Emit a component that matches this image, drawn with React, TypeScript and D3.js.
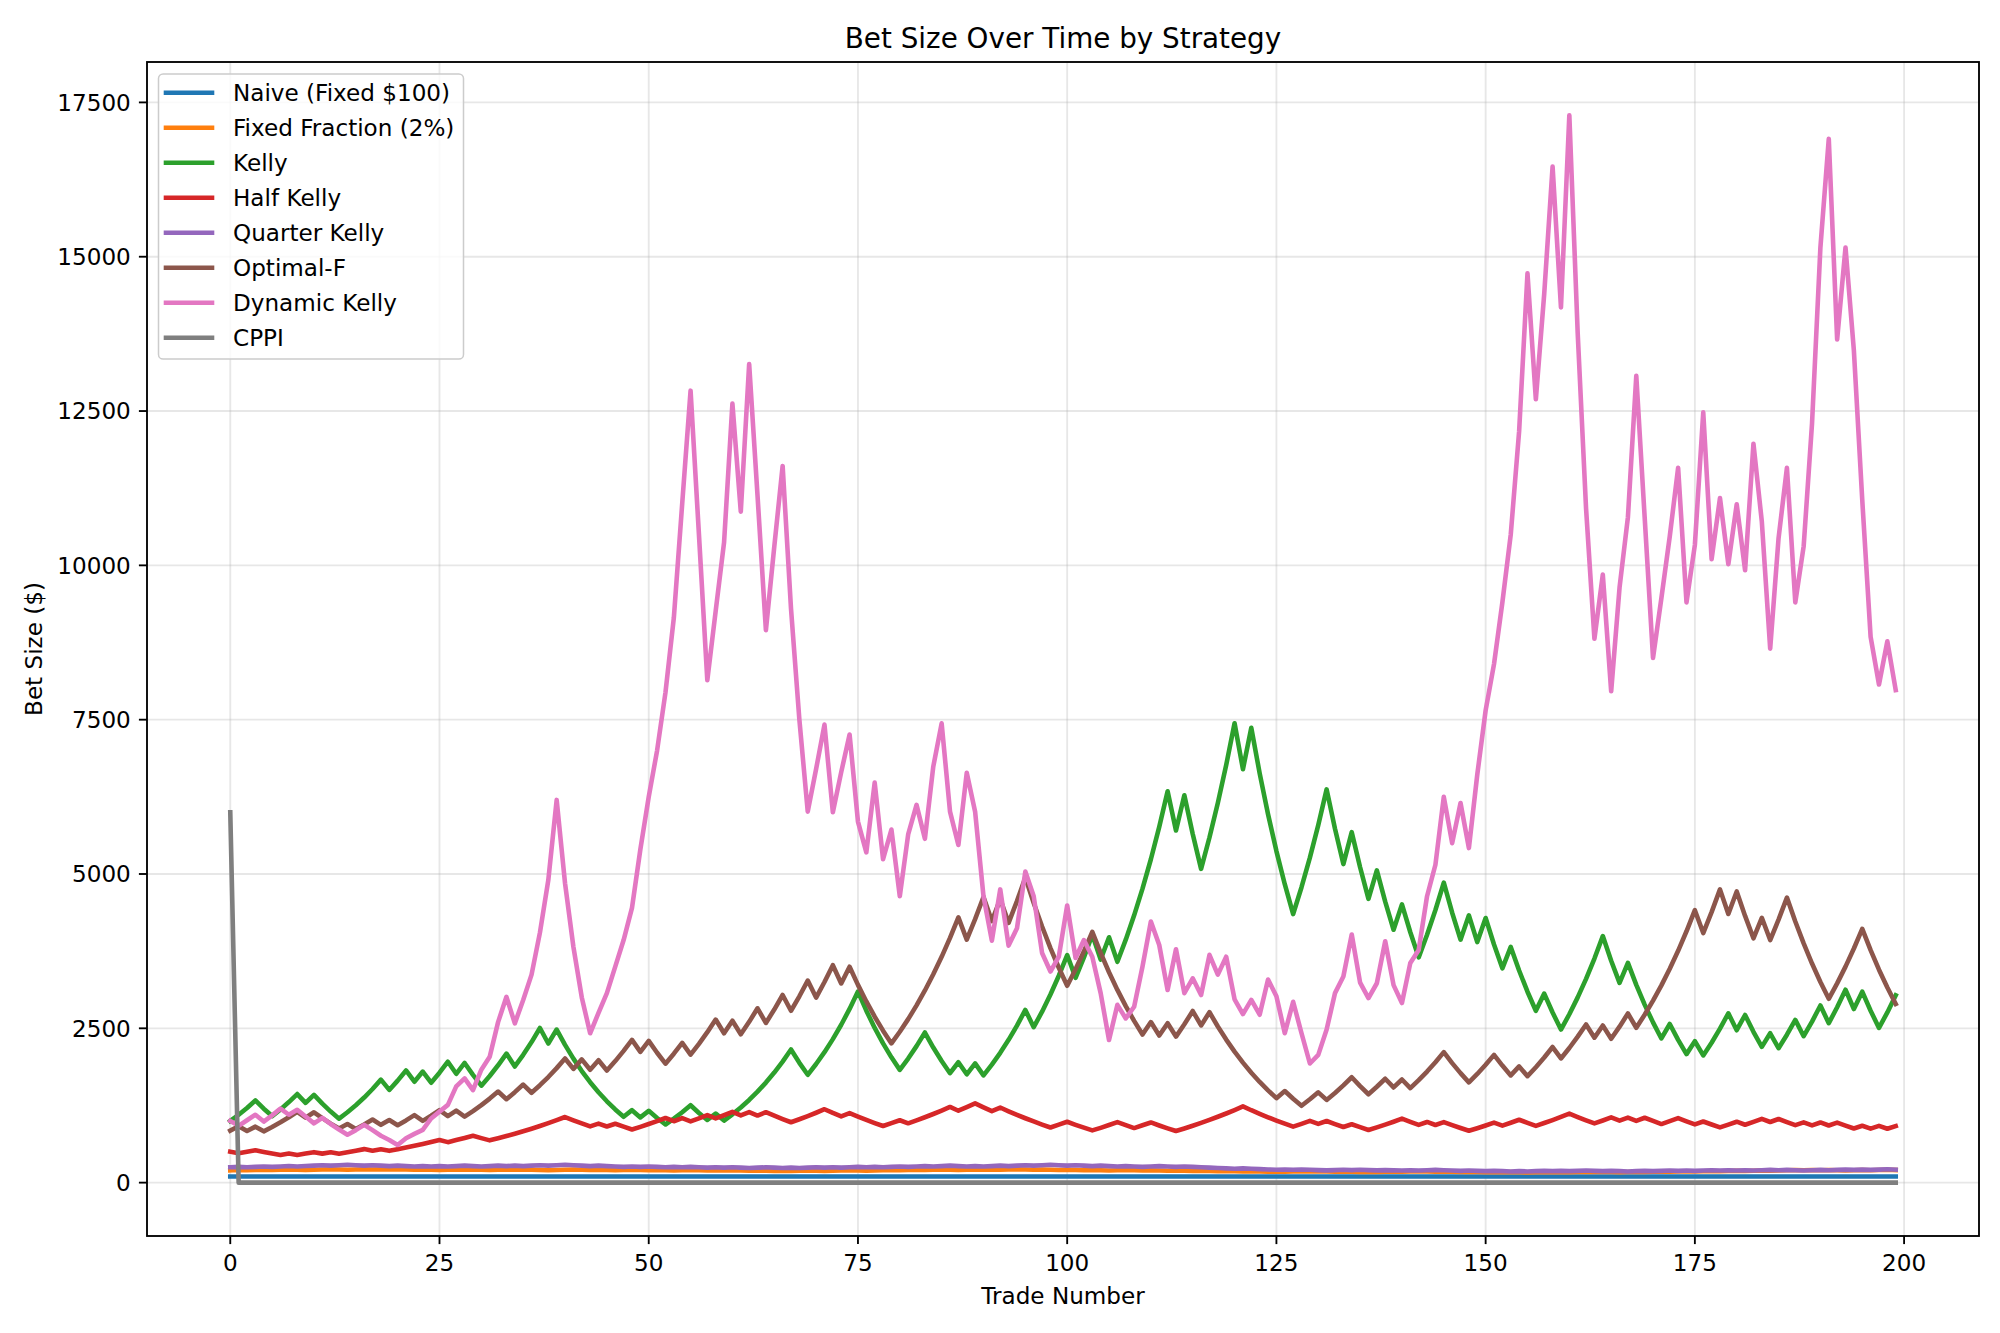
import React from "react";
import * as d3 from "d3";

const W = 2000;
const H = 1333;
const M = { left: 147, right: 21, top: 62, bottom: 97 };

const xTicks = [0, 25, 50, 75, 100, 125, 150, 175, 200];
const yTicks = [0, 2500, 5000, 7500, 10000, 12500, 15000, 17500];

const naive = [
100,100,100,100,100,100,100,100,100,100,100,100,100,100,100,100,100,100,100,100,
100,100,100,100,100,100,100,100,100,100,100,100,100,100,100,100,100,100,100,100,
100,100,100,100,100,100,100,100,100,100,100,100,100,100,100,100,100,100,100,100,
100,100,100,100,100,100,100,100,100,100,100,100,100,100,100,100,100,100,100,100,
100,100,100,100,100,100,100,100,100,100,100,100,100,100,100,100,100,100,100,100,
100,100,100,100,100,100,100,100,100,100,100,100,100,100,100,100,100,100,100,100,
100,100,100,100,100,100,100,100,100,100,100,100,100,100,100,100,100,100,100,100,
100,100,100,100,100,100,100,100,100,100,100,100,100,100,100,100,100,100,100,100,
100,100,100,100,100,100,100,100,100,100,100,100,100,100,100,100,100,100,100,100,
100,100,100,100,100,100,100,100,100,100,100,100,100,100,100,100,100,100,100,100];

const fixedFraction = [
200,204,200,204,208,204,208,212,208,204,
208,212,216,212,208,212,216,212,216,212,
216,212,208,212,208,204,208,212,208,212,
208,204,208,212,208,212,208,204,200,204,
208,212,208,204,208,204,200,204,208,204,
200,204,200,196,200,204,200,196,200,196,
200,196,192,196,192,188,192,188,192,196,
192,188,192,196,200,196,192,196,200,204,
200,204,208,204,208,212,208,204,208,212,
208,212,208,212,216,212,208,212,208,204,
208,204,200,204,200,196,200,204,200,196,
200,196,192,196,192,188,192,188,184,188,
184,180,184,180,176,180,176,180,184,180,
184,180,176,180,176,172,176,172,176,180,
176,180,184,180,176,180,176,172,176,172,
168,172,168,172,168,164,168,172,168,172,
168,172,176,172,176,172,168,172,176,172,
176,180,176,180,184,180,184,188,184,188,
192,188,192,196,192,196,200,204,200,204,
200,204,200,196,200,204,200,204,208,204];

const kelly = [
1000,1100,1210,1331,1198,1078,1186,1305,1435,1292,
1421,1279,1151,1036,1140,1254,1379,1517,1669,1502,
1652,1817,1635,1799,1619,1781,1959,1763,1939,1745,
1571,1728,1901,2091,1882,2070,2277,2505,2254,2480,
2232,2009,1808,1627,1464,1318,1186,1067,1174,1057,
1163,1047,942,1036,1140,1254,1129,1016,1118,1006,
1107,1218,1340,1474,1621,1783,1961,2157,1941,1747,
1922,2114,2325,2558,2814,3095,2786,2507,2256,2030,
1827,2010,2211,2432,2189,1970,1773,1950,1755,1931,
1738,1912,2103,2313,2544,2798,2518,2770,3047,3352,
3687,3318,3650,4015,3614,3975,3578,3936,4330,4763,
5239,5763,6339,5705,6276,5648,5083,5591,6150,6765,
7442,6698,7368,6631,5968,5371,4834,4351,4786,5265,
5792,6371,5734,5161,5677,5109,4598,5058,4552,4097,
4507,4056,3650,4015,4417,4859,4373,3936,4330,3897,
4287,3858,3472,3819,3437,3093,2784,3062,2756,2480,
2728,3001,3301,3631,3994,3595,3236,3560,3204,2884,
2596,2336,2570,2313,2082,2290,2061,2267,2494,2743,
2469,2716,2444,2200,2420,2178,2396,2636,2372,2609,
2870,2583,2841,3125,2813,3094,2785,2507,2758,3034];

const halfKelly = [
500,475,499,524,498,473,449,472,448,471,
494,470,493,469,492,517,543,516,542,515,
541,568,596,626,658,691,656,689,723,759,
721,685,719,755,793,833,874,918,964,1012,
1063,1010,959,911,957,909,954,907,861,904,
949,997,1047,995,1045,993,1042,1094,1040,1092,
1147,1089,1144,1087,1141,1084,1030,978,1027,1078,
1132,1189,1129,1073,1126,1070,1016,965,917,963,
1011,961,1009,1059,1112,1168,1226,1165,1223,1284,
1220,1159,1217,1156,1098,1043,991,941,894,939,
986,937,890,846,888,933,980,931,884,929,
975,926,880,836,878,922,968,1016,1067,1120,
1176,1235,1173,1115,1059,1006,956,908,953,1001,
951,998,948,901,946,898,853,896,940,987,
1037,985,936,983,934,980,931,885,840,882,
926,973,924,970,1019,968,920,966,1014,1065,
1118,1062,1009,959,1007,1057,1004,1054,1001,1051,
999,949,996,1046,994,944,991,942,895,940,
987,938,985,1034,982,1031,980,931,977,928,
975,926,972,924,877,921,875,919,873,917];

const quarterKelly = [
250,256,250,256,262,256,262,269,262,269,
275,282,275,282,289,282,275,282,275,268,
275,268,262,268,262,268,262,268,275,268,
262,268,275,268,275,268,275,282,275,282,
289,282,275,268,275,268,262,255,262,255,
262,255,249,255,249,255,249,243,249,243,
249,243,237,243,249,243,237,243,237,243,
249,243,249,243,249,255,249,255,249,255,
262,255,262,268,262,268,275,268,262,268,
262,268,275,268,275,282,275,282,289,282,
275,282,275,268,275,268,262,268,262,255,
262,268,262,255,262,255,249,243,237,231,
225,231,225,219,214,208,214,208,214,208,
203,198,203,208,203,208,203,198,203,198,
196,201,196,201,206,201,196,191,196,191,
186,191,186,181,186,181,186,191,186,191,
186,191,196,191,186,191,186,181,186,191,
186,191,196,191,196,191,196,201,196,201,
196,201,196,201,206,201,206,201,196,201,
206,201,206,211,206,211,206,211,216,211];

const optimalF = [
843,914,837,907,831,901,977,1059,1148,1052,
1140,1044,956,876,950,870,943,1022,936,1015,
930,1008,1093,1001,1085,1176,1077,1167,1069,1159,
1256,1362,1476,1352,1466,1589,1456,1578,1711,1855,
2011,1842,1997,1829,1983,1816,1969,2134,2313,2119,
2297,2104,1927,2089,2264,2074,2248,2437,2642,2420,
2623,2403,2605,2824,2587,2804,3040,2785,3019,3273,
2998,3250,3523,3227,3498,3204,2935,2688,2462,2255,
2444,2649,2872,3113,3375,3658,3965,4298,3937,4268,
4627,4238,4594,4208,4561,4944,4529,4149,3800,3481,
3189,3457,3747,4062,3721,3408,3122,2860,2620,2400,
2601,2383,2583,2366,2565,2780,2547,2761,2529,2317,
2122,1944,1781,1631,1494,1369,1484,1359,1245,1350,
1463,1340,1453,1575,1707,1564,1432,1553,1683,1542,
1671,1531,1660,1799,1950,2114,1936,1774,1625,1761,
1909,2070,1896,1737,1883,1725,1870,2027,2197,2012,
2181,2365,2563,2348,2545,2331,2527,2740,2509,2720,
2949,3196,3465,3756,4072,4414,4043,4383,4751,4352,
4717,4321,3958,4291,3930,4261,4618,4230,3875,3549,
3251,2978,3228,3499,3793,4112,3766,3450,3160,2895];

const dynamicKelly = [
1000,920,1010,1100,990,1090,1200,1100,1180,1070,
960,1050,950,860,775,850,935,850,760,690,
610,720,790,855,1040,1150,1260,1560,1690,1500,
1830,2040,2600,3010,2580,2960,3370,4050,4900,6200,
4850,3820,3000,2420,2750,3070,3500,3930,4450,5400,
6250,7000,7940,9150,11000,12830,10500,8140,9260,10370,
12620,10870,13260,11130,8950,10300,11610,9300,7500,6010,
6700,7420,6000,6650,7260,5850,5350,6480,5240,5720,
4640,5640,6120,5570,6740,7440,6010,5470,6640,6010,
4640,3920,4750,3840,4120,5040,4640,3720,3420,3660,
4490,3640,3930,3660,3070,2310,2880,2660,2850,3500,
4230,3850,3120,3780,3070,3310,3040,3690,3370,3660,
2970,2730,2960,2720,3290,3020,2420,2930,2420,1930,
2070,2480,3070,3340,4020,3240,2990,3230,3910,3200,
2910,3560,3770,4640,5150,6250,5500,6150,5420,6610,
7650,8400,9400,10500,12170,14730,12690,14400,16460,14180,
17290,13760,10920,8810,9850,7960,9640,10780,13070,10780,
8500,9470,10470,11580,9400,10330,12480,10100,11090,10020,
10990,9920,11970,10710,8650,10440,11580,9400,10310,12300,
15150,16910,13660,15150,13480,11060,8840,8070,8770,7980];

const cppi = [
6000,0,0,0,0,0,0,0,0,0,0,0,0,0,0,0,0,0,0,0,
0,0,0,0,0,0,0,0,0,0,0,0,0,0,0,0,0,0,0,0,
0,0,0,0,0,0,0,0,0,0,0,0,0,0,0,0,0,0,0,0,
0,0,0,0,0,0,0,0,0,0,0,0,0,0,0,0,0,0,0,0,
0,0,0,0,0,0,0,0,0,0,0,0,0,0,0,0,0,0,0,0,
0,0,0,0,0,0,0,0,0,0,0,0,0,0,0,0,0,0,0,0,
0,0,0,0,0,0,0,0,0,0,0,0,0,0,0,0,0,0,0,0,
0,0,0,0,0,0,0,0,0,0,0,0,0,0,0,0,0,0,0,0,
0,0,0,0,0,0,0,0,0,0,0,0,0,0,0,0,0,0,0,0,
0,0,0,0,0,0,0,0,0,0,0,0,0,0,0,0,0,0,0,0];

const seriesNames = [
  "Naive (Fixed $100)",
  "Fixed Fraction (2%)",
  "Kelly",
  "Half Kelly",
  "Quarter Kelly",
  "Optimal-F",
  "Dynamic Kelly",
  "CPPI",
];
const seriesColors = ["#1f77b4", "#ff7f0e", "#2ca02c", "#d62728", "#9467bd", "#8c564b", "#e377c2", "#7f7f7f"];
const seriesValues = [naive, fixedFraction, kelly, halfKelly, quarterKelly, optimalF, dynamicKelly, cppi];

export default function App() {
  const x0 = M.left, x1 = W - M.right, y0 = H - M.bottom, y1 = M.top;
  const n = kelly.length;
  const xmin = 0, xmax = n - 1;
  const xpad = (xmax - xmin) * 0.05;
  const all = seriesValues.flat();
  const vmin = d3.min(all) as number;
  const vmax = d3.max(all) as number;
  const ypad = (vmax - vmin) * 0.05;
  const x = d3.scaleLinear().domain([xmin - xpad, xmax + xpad]).range([x0, x1]);
  const y = d3.scaleLinear().domain([vmin - ypad, vmax + ypad]).range([y0, y1]);
  const line = d3.line<number>().x((_, i) => x(i)).y((v) => y(v));

  const font = "DejaVu Sans, Liberation Sans, sans-serif";
  const tickFs = 23.1;
  const lw = 4.6;
  const gridColor = "#b0b0b0";

  return (
    <svg width={W} height={H} style={{ position: "absolute", left: 0, top: 0, background: "#fff" }} fontFamily={font}>
      <rect x={0} y={0} width={W} height={H} fill="#fff" />
      <defs>
        <clipPath id="plotclip">
          <rect x={x0} y={y1} width={x1 - x0} height={y0 - y1} />
        </clipPath>
      </defs>
      {/* grid */}
      <g>
        {xTicks.map((t) => (
          <line key={"gx" + t} x1={x(t)} x2={x(t)} y1={y0} y2={y1} stroke={gridColor} strokeOpacity={0.3} strokeWidth={1.85} />
        ))}
        {yTicks.map((t) => (
          <line key={"gy" + t} x1={x0} x2={x1} y1={y(t)} y2={y(t)} stroke={gridColor} strokeOpacity={0.3} strokeWidth={1.85} />
        ))}
      </g>
      {/* series */}
      <g clipPath="url(#plotclip)">
        {seriesValues.map((vals, k) => (
          <path key={seriesNames[k]} d={line(vals) || ""} fill="none" stroke={seriesColors[k]} strokeWidth={lw} strokeLinejoin="round" strokeLinecap="square" />
        ))}
      </g>
      {/* spines */}
      <rect x={x0} y={y1} width={x1 - x0} height={y0 - y1} fill="none" stroke="#000" strokeWidth={1.85} />
      {/* x ticks */}
      {xTicks.map((t) => (
        <g key={"xt" + t}>
          <line x1={x(t)} x2={x(t)} y1={y0} y2={y0 + 8.1} stroke="#000" strokeWidth={1.85} />
          <text x={x(t)} y={1271} textAnchor="middle" fontSize={tickFs} fill="#000">{t}</text>
        </g>
      ))}
      {/* y ticks */}
      {yTicks.map((t) => (
        <g key={"yt" + t}>
          <line x1={x0 - 8.1} x2={x0} y1={y(t)} y2={y(t)} stroke="#000" strokeWidth={1.85} />
          <text x={x0 - 16.2} y={y(t) + 8.4} textAnchor="end" fontSize={tickFs} fill="#000">{t}</text>
        </g>
      ))}
      {/* labels */}
      <text x={(x0 + x1) / 2} y={1304} textAnchor="middle" fontSize={tickFs} fill="#000">Trade Number</text>
      <text transform={`translate(42, ${(y0 + y1) / 2}) rotate(-90)`} textAnchor="middle" fontSize={tickFs} fill="#000">Bet Size ($)</text>
      <text x={(x0 + x1) / 2} y={48} textAnchor="middle" fontSize={27.8} fill="#000">Bet Size Over Time by Strategy</text>
      {/* legend */}
      <g>
        <rect x={158.5} y={74} width={305} height={285} rx={4.6} fill="#fff" fillOpacity={0.8} stroke="#cccccc" strokeWidth={1.5} />
        {seriesNames.map((name, k) => {
          const cy = 92.7 + 35 * k;
          return (
            <g key={"lg" + k}>
              <line x1={166} x2={212} y1={cy} y2={cy} stroke={seriesColors[k]} strokeWidth={lw} strokeLinecap="square" />
              <text x={233} y={cy + 8.4} fontSize={tickFs} fill="#000">{name}</text>
            </g>
          );
        })}
      </g>
    </svg>
  );
}
